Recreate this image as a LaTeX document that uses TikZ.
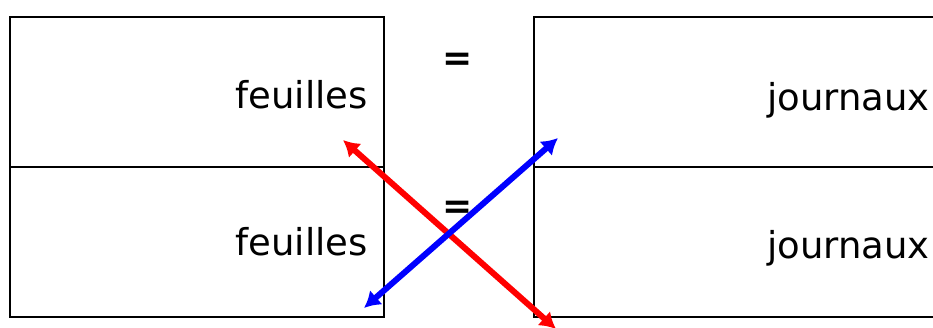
\documentclass[tikz,border=0pt]{standalone}
\usepackage{fontspec}
\setmainfont{DejaVu Sans}
\usetikzlibrary{arrows.meta}
\begin{document}
\begin{tikzpicture}[x=1pt,y=-1pt,
  cell/.style={draw=black,line width=2.2pt},
  word/.style={font=\fontsize{37}{40}\selectfont,anchor=base east,inner sep=0pt},
  eqsign/.style={font=\fontsize{36}{40}\selectfont\bfseries,inner sep=0pt},
  link/.style={line width=6pt,{Latex[length=16pt,width=19pt]}-{Latex[length=16pt,width=19pt]}}]
\useasboundingbox (0,0) rectangle (933,327);
\begin{scope}
\clip (0,0) rectangle (933,327);
\draw[cell] (10,17) rectangle (384,167);
\draw[cell] (10,167) rectangle (384,317);
\draw[cell] (534,17) rectangle (960,167);
\draw[cell] (534,167) rectangle (960,317);
\node[word] (f1) at (368,108) {feuilles};
\node[word] (f2) at (368,255) {feuilles};
\node[word] (j1) at (930,110) {journaux};
\node[word] (j2) at (930,258) {journaux};
\node[eqsign] (e1) at (458,62) {=};
\node[eqsign] (e2) at (458,210) {=};
\coordinate (r1) at (343,140);
\coordinate (r2) at (556,329);
\coordinate (b1) at (558,138);
\coordinate (b2) at (364,308);
\draw[link,red] (r1) -- (r2);
\draw[link,blue] (b1) -- (b2);
\end{scope}
\end{tikzpicture}
\end{document}
